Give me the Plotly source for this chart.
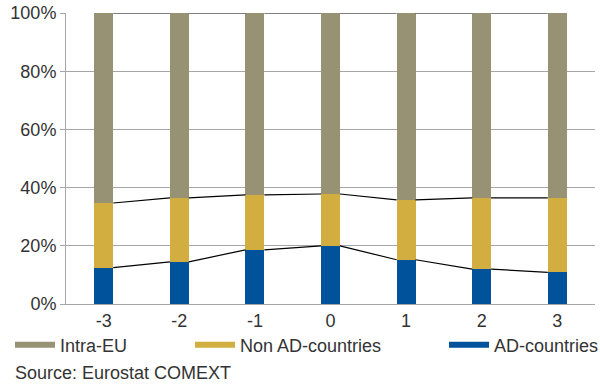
import plotly.graph_objects as go

categories = ["-3", "-2", "-1", "0", "1", "2", "3"]
ad_countries = [12.5, 14.5, 18.6, 20.0, 15.2, 12.0, 10.9]
non_ad_countries = [22.2, 22.0, 18.9, 17.8, 20.6, 24.5, 25.6]
intra_eu = [100 - a - n for a, n in zip(ad_countries, non_ad_countries)]

series_names = ["AD-countries", "Non AD-countries", "Intra-EU"]
colors = {"AD-countries": "#00529b", "Non AD-countries": "#d2ad3f", "Intra-EU": "#979273"}
values = {"AD-countries": ad_countries, "Non AD-countries": non_ad_countries, "Intra-EU": intra_eu}

BAR_W = 0.25
FONT = "Liberation Sans, Arial, sans-serif"
FS = 18
TXT = "#333333"
GRID = "#a6a6a6"

xs = list(range(len(categories)))
fig = go.Figure()

for name in series_names:
    fig.add_trace(go.Bar(x=xs, y=values[name], name=name, marker=dict(color=colors[name], line=dict(width=0)),
                         width=BAR_W, showlegend=False, hoverinfo="y+name"))

# series lines connecting the top corners of each stacked segment
cum = [0.0] * len(categories)
for name in series_names:
    cum = [c + v for c, v in zip(cum, values[name])]
    lx, ly = [], []
    for i in range(len(categories) - 1):
        lx += [xs[i] + BAR_W / 2, xs[i + 1] - BAR_W / 2, None]
        ly += [cum[i], cum[i + 1], None]
    fig.add_trace(go.Scatter(x=lx, y=ly, mode="lines", line=dict(color="black", width=1.2),
                             showlegend=False, hoverinfo="skip", cliponaxis=False))

# legend proxies (wide flat swatches)
legend_order = [("Intra-EU", "legend"), ("Non AD-countries", "legend2"), ("AD-countries", "legend3")]
for name, lg in legend_order:
    fig.add_trace(go.Scatter(x=[None], y=[None], mode="lines", name=name,
                             line=dict(color=colors[name], width=6), legend=lg))

L, R, T, B = 66, 5, 13, 80
W, H = 600, 384
pw = W - L - R
ph = H - T - B

def px2x(px):
    return (px - L) / pw

def px2y(py):
    return (H - B - py) / ph

leg_common = dict(orientation="h", xanchor="left", yanchor="middle", bgcolor="rgba(0,0,0,0)",
                  font=dict(family=FONT, size=FS, color=TXT), itemclick=False, itemwidth=40)

fig.update_layout(
    width=W, height=H,
    margin=dict(l=L, r=R, t=T, b=B, autoexpand=False),
    paper_bgcolor="white", plot_bgcolor="white",
    barmode="stack",
    font=dict(family=FONT, size=FS, color=TXT),
    xaxis=dict(range=[-0.5, len(categories) - 0.5], tickmode="array", tickvals=xs, ticktext=categories,
               showgrid=False, zeroline=False, showline=True, linecolor=GRID, linewidth=1,
               ticks="", tickfont=dict(family=FONT, size=FS, color=TXT), automargin=False),
    yaxis=dict(range=[0, 100], dtick=20, ticksuffix="%", showgrid=True, gridcolor=GRID, gridwidth=1,
               zeroline=False, showline=True, linecolor=GRID, linewidth=1, ticks="outside",
               ticklen=5, tickcolor=GRID, tickfont=dict(family=FONT, size=FS, color=TXT), automargin=False),
    legend=dict(x=px2x(10), y=px2y(345), **leg_common),
    legend2=dict(x=px2x(190), y=px2y(345), **leg_common),
    legend3=dict(x=px2x(444), y=px2y(345), **leg_common),
    annotations=[dict(text="Source: Eurostat COMEXT", xref="paper", yref="paper",
                      x=px2x(13), y=px2y(373), xanchor="left", yanchor="middle", showarrow=False,
                      font=dict(family=FONT, size=FS, color=TXT))],
)

fig.write_html("out.html")
